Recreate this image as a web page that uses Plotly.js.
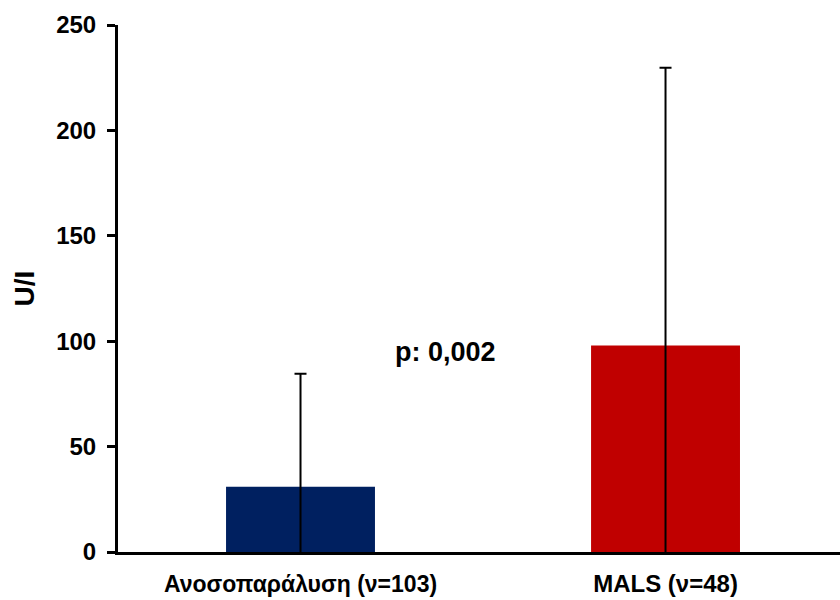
<!DOCTYPE html>
<html>
<head>
<meta charset="utf-8">
<script src="https://cdn.plot.ly/plotly-3.0.1.min.js"></script>
<style>
  html, body { margin: 0; padding: 0; background: #fff; }
  #chart { width: 840px; height: 600px; }
</style>
</head>
<body>
<div id="chart"></div>
<script>
// Groups, mean values and standard deviations (U/l)
const groups = ['Ανοσοπαράλυση (ν=103)', 'MALS (ν=48)'];
const means = [31, 98];
const sds = [53.5, 131.7];
const barColors = ['#002060', '#C00000'];
const yTicks = [0, 50, 100, 150, 200, 250];
const pLabel = 'p: 0,002';

const font = 'Liberation Sans, Arial, sans-serif';

// the long Greek group name is set a touch smaller so it stays compact
const groupText = [
  `<span style="font-size:23px">${groups[0]}</span>`,
  groups[1]
];

const trace = {
  type: 'bar',
  x: groups,
  y: means,
  width: 0.408,
  marker: { color: barColors, line: { width: 0 } },
  error_y: {
    type: 'data',
    array: sds,
    symmetric: true,
    visible: true,
    color: '#000',
    thickness: 2,
    width: 6
  },
  hoverinfo: 'none'
};

const layout = {
  width: 840,
  height: 600,
  margin: { l: 118, r: 0, t: 25, b: 48 },
  paper_bgcolor: '#fff',
  plot_bgcolor: '#fff',
  showlegend: false,
  font: { family: font, color: '#000' },
  xaxis: {
    type: 'category',
    range: [-0.5, 1.478],
    tickvals: groups,
    ticktext: groupText,
    showline: true,
    linecolor: '#000',
    linewidth: 3,
    ticks: '',
    showgrid: false,
    zeroline: false,
    tickfont: { family: font, size: 24, color: '#000', weight: 'bold' },
    ticklabelstandoff: 8
  },
  yaxis: {
    range: [0, 250],
    tickvals: yTicks,
    ticktext: yTicks.map(String),
    showline: true,
    linecolor: '#000',
    linewidth: 3,
    ticks: 'outside',
    ticklen: 8,
    tickwidth: 3,
    tickcolor: '#000',
    showgrid: false,
    zeroline: false,
    tickfont: { family: font, size: 24, color: '#000', weight: 'bold' },
    ticklabelstandoff: 6,
    title: {
      text: 'U/I',
      font: { family: font, size: 28, color: '#000', weight: 'bold' },
      standoff: 14
    }
  },
  annotations: [{
    x: 0.396,
    y: 95,
    xref: 'x',
    yref: 'y',
    text: pLabel,
    showarrow: false,
    font: { family: font, size: 27, color: '#000', weight: 'bold' }
  }]
};

Plotly.newPlot('chart', [trace], layout, { displayModeBar: false, staticPlot: true });
</script>
</body>
</html>
